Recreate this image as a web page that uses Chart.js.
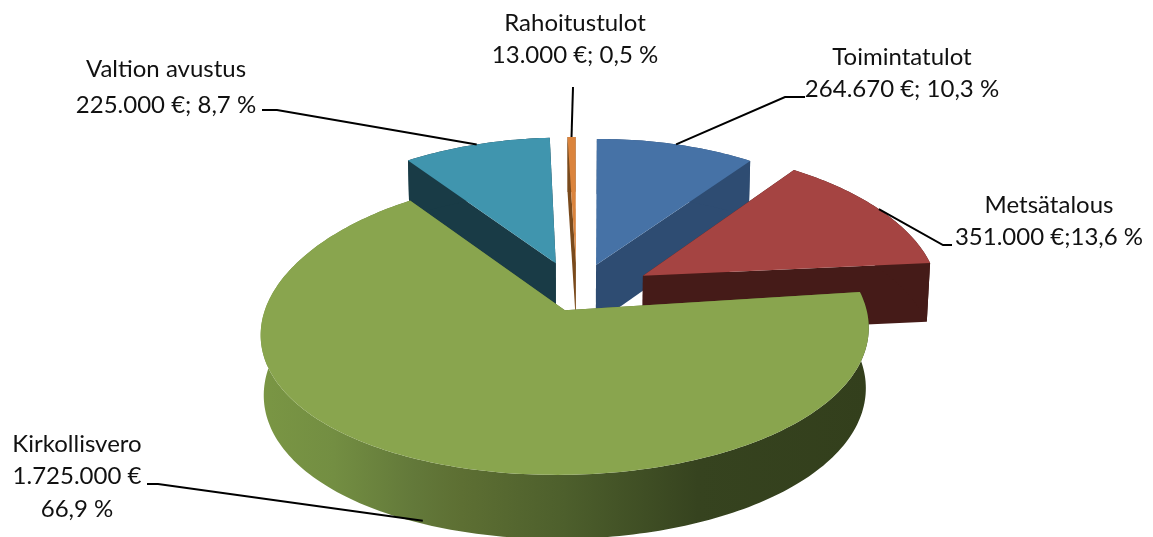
<!DOCTYPE html>
<html>
<head>
<meta charset="utf-8">
<style>
  html, body { margin: 0; padding: 0; background: #fff; }
  canvas { display: block; }
</style>
<script src="https://cdn.jsdelivr.net/npm/chart.js@4"></script>
</head>
<body>
<canvas id="chart" width="1153" height="537"></canvas>
<script>
var categories = ['Toimintatulot', 'Metsätalous', 'Kirkollisvero', 'Valtion avustus', 'Rahoitustulot'];
var amounts    = [264670, 351000, 1725000, 225000, 13000];
var valueLines = [
  ['264.670 €; 10,3 %'],
  ['351.000 €;13,6 %'],
  ['1.725.000 €', '66,9 %'],
  ['225.000 €; 8,7 %'],
  ['13.000 €; 0,5 %']
];

// how far each slice is pulled out of the pie, as a share of the radius
var pullX = [0.08, 0.24, -0.027, -0.06, 0.01];
var pullY = [0.245, 0.165, -0.07, 0.26, 0.265];

// the source program's 3d view bends the slice edges a little (degrees)
var startSkew = [0.8, 0, -2, -2, 0];
var endSkew   = [0, 0, -2, 0, 0];

var topColors  = ['#4672a6', '#a54442', '#89a54e', '#4095ae', '#db843d'];
var wallColors = ['#2e4c72', '#451b18', '#5f7033', '#193b46', '#7a4a1c'];

// label placement: centre x, first line y, line gap, stub and leader
var labelStyle = [
  { x: 902,  y: 57,  gap: 32, stub: [[805, 97], [785, 97]], z: 0 },
  { x: 1049, y: 205, gap: 32, stub: [[952, 245], [943, 245]], z: 0 },
  { x: 77,   y: 444, gap: 32.5, stub: [[147, 484], [158, 484]], z: -0.95 },
  { x: 166,  y: 69,  gap: 36, stub: [[262, 110], [277, 110]], z: 0 },
  { x: 575,  y: 23,  gap: 32, stub: [[573, 87]], z: 0 }
];

var camera = {
  cx: 573, cy: 300,
  focalX: 1848, distX: 6.2,
  focalY: 2474, distY: 8.5,
  pitch: 30 * Math.PI / 180,
  roll: 0.01,
  depth: 0.24
};

function project(x, y, z) {
  var c = Math.cos(camera.pitch), s = Math.sin(camera.pitch);
  var sx = camera.focalX * x / (camera.distX + y * c - 0.5 * z * s);
  var sy = camera.focalY * (y * s + z * c) / (camera.distY + y * c - z * s);
  return [camera.cx + sx, camera.cy - sy - camera.roll * sx];
}

// point on a slice; theta runs clockwise from 12 o'clock
function slicePoint(slice, theta, r, z) {
  return project(slice.ox + r * Math.sin(theta), slice.oy + r * Math.cos(theta), z);
}

function fillPoly(ctx, pts, fill) {
  ctx.beginPath();
  pts.forEach(function(p, i) {
    if (i === 0) { ctx.moveTo(p[0], p[1]); } else { ctx.lineTo(p[0], p[1]); }
  });
  ctx.closePath();
  ctx.fillStyle = fill;
  ctx.fill();
}

function arcPoints(slice, z, reverse) {
  var pts = [];
  var steps = Math.max(4, Math.ceil((slice.end - slice.start) / 0.02));
  for (var i = 0; i <= steps; i++) {
    var t = slice.start + (slice.end - slice.start) * i / steps;
    pts.push(slicePoint(slice, t, 1, z));
  }
  return reverse ? pts.reverse() : pts;
}

function drawSlice(ctx, slice) {
  var h = -camera.depth;
  var apexTop = slicePoint(slice, 0, 0, 0);
  var apexLow = slicePoint(slice, 0, 0, h);
  var startTop = slicePoint(slice, slice.start, 1, 0);
  var startLow = slicePoint(slice, slice.start, 1, h);
  var endTop = slicePoint(slice, slice.end, 1, 0);
  var endLow = slicePoint(slice, slice.end, 1, h);

  fillPoly(ctx, [apexTop, startTop, startLow, apexLow], slice.wall);
  fillPoly(ctx, [apexTop, endTop, endLow, apexLow], slice.wall);

  var wallFill = slice.wall;
  if (slice.index === 2) {
    wallFill = ctx.createLinearGradient(261, 0, 868, 0);
    wallFill.addColorStop(0, '#7a9644');
    wallFill.addColorStop(0.12, '#738e42');
    wallFill.addColorStop(0.25, '#63793a');
    wallFill.addColorStop(0.33, '#5d6f33');
    wallFill.addColorStop(0.5, '#4d5f2c');
    wallFill.addColorStop(0.72, '#36431f');
    wallFill.addColorStop(1, '#333f1c');
  }
  fillPoly(ctx, arcPoints(slice, 0).concat(arcPoints(slice, h, true)), wallFill);

  fillPoly(ctx, [apexTop].concat(arcPoints(slice, 0)), slice.top);
}

function drawLabel(ctx, slice, index) {
  var style = labelStyle[index];
  var mid = (slice.start + slice.end) / 2;
  var anchor = slicePoint(slice, mid, 1, style.z * camera.depth);

  ctx.beginPath();
  style.stub.concat([anchor]).forEach(function(p, i) {
    if (i === 0) { ctx.moveTo(p[0], p[1]); } else { ctx.lineTo(p[0], p[1]); }
  });
  ctx.strokeStyle = '#000';
  ctx.lineWidth = 2;
  ctx.stroke();

  ctx.fillStyle = '#111';
  ctx.font = '24px Lato';
  ctx.textAlign = 'center';
  ctx.textBaseline = 'middle';
  [categories[index]].concat(valueLines[index]).forEach(function(line, i) {
    ctx.fillText(line, style.x, style.y + style.gap * i);
  });
}

var pie3d = {
  id: 'pie3d',
  // the pie element gives the angles, this plugin only tilts them into perspective
  beforeDatasetsDraw: function(chart) {
    var ctx = chart.ctx;
    var arcs = chart.getDatasetMeta(0).data;
    var toRad = Math.PI / 180;

    var slices = arcs.map(function(arc, i) {
      return {
        index: i,
        start: arc.startAngle + Math.PI / 2 + startSkew[i] * toRad,
        end: arc.endAngle + Math.PI / 2 + endSkew[i] * toRad,
        ox: pullX[i],
        oy: pullY[i],
        top: arc.options.backgroundColor,
        wall: wallColors[i]
      };
    });

    // back to front
    slices.slice().sort(function(a, b) { return b.oy - a.oy; }).forEach(function(slice) {
      drawSlice(ctx, slice);
    });
    slices.forEach(function(slice) {
      drawLabel(ctx, slice, slice.index);
    });

    return false;
  }
};

new Chart(document.getElementById('chart'), {
  type: 'pie',
  data: {
    labels: categories,
    datasets: [{ data: amounts, backgroundColor: topColors }]
  },
  options: {
    responsive: false,
    animation: false,
    plugins: { legend: { display: false }, tooltip: { enabled: false } }
  },
  plugins: [pie3d]
});
</script>
</body>
</html>
